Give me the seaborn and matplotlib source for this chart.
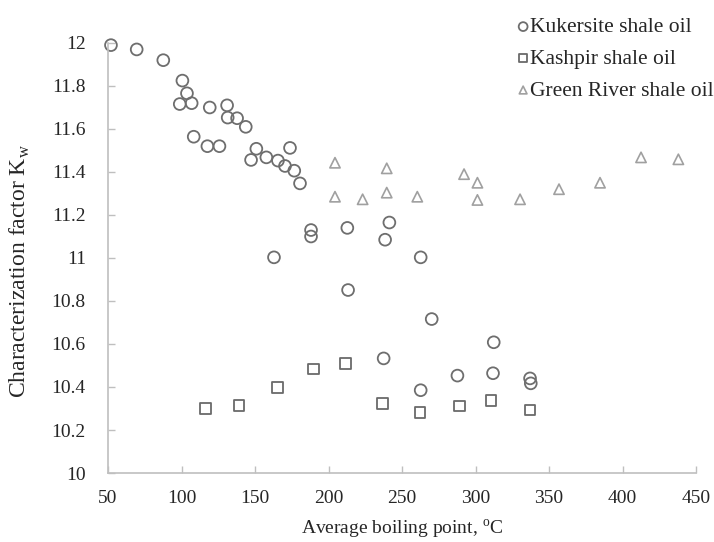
# characterization factor vs average boiling point for three shale oils

import pandas as pd
import seaborn as sns
import matplotlib.pyplot as plt

kuk_x = [52, 69.5, 87.6, 100.6, 103.7, 98.8, 106.9, 108.3, 119.2, 117.6, 125.8, 131, 131.4,
         137.8, 143.7, 150.9, 147.3, 157.7, 165.6, 170.4, 173.8, 176.7, 180.6, 188.1, 188.1,
         212.8, 162.9, 241.4, 238.5, 262.7, 213.3, 270.2, 312.4, 237.5, 287.7, 311.9, 337.1,
         337.6, 262.7]
kuk_y = [11.99, 11.97, 11.92, 11.825, 11.766, 11.716, 11.72, 11.564, 11.70, 11.52, 11.52,
         11.71, 11.653, 11.65, 11.61, 11.508, 11.456, 11.468, 11.453, 11.428, 11.512, 11.406,
         11.347, 11.13, 11.10, 11.14, 11.003, 11.165, 11.085, 11.003, 10.851, 10.716, 10.608,
         10.533, 10.453, 10.464, 10.44, 10.417, 10.385]

kas_x = [116.2, 139.1, 165.4, 189.7, 211.3, 236.6, 262.2, 289, 310.5, 337.1]
kas_y = [10.30, 10.313, 10.397, 10.484, 10.51, 10.324, 10.282, 10.312, 10.336, 10.293]

gr_x = [204.4, 204.4, 223.2, 239.6, 239.6, 260.4, 292.2, 301.3, 301.3, 330.3, 356.8, 384.7,
        412.6, 438]
gr_y = [11.443, 11.285, 11.273, 11.417, 11.304, 11.285, 11.39, 11.35, 11.27, 11.273, 11.32,
        11.35, 11.468, 11.459]

kuk = pd.DataFrame({'x': kuk_x, 'y': kuk_y})
kas = pd.DataFrame({'x': kas_x, 'y': kas_y})
gr = pd.DataFrame({'x': gr_x, 'y': gr_y})

sns.set_style('white')
plt.rcParams['font.family'] = ['Liberation Serif', 'DejaVu Serif']

fig = plt.figure(figsize=(7.14, 5.42), dpi=100)
ax = fig.add_axes([0.1513, 0.1273, 0.8235, 0.7934])

sns.scatterplot(ax=ax, data=kuk, x='x', y='y', marker='o', s=72, facecolor='none',
                edgecolor='#6e6e6e', linewidth=1.3, clip_on=False, label='Kukersite shale oil')
sns.scatterplot(ax=ax, data=kas, x='x', y='y', marker='s', s=60, facecolor='none',
                edgecolor='#6a6a6a', linewidth=1.3, clip_on=False, label='Kashpir shale oil')
sns.scatterplot(ax=ax, data=gr, x='x', y='y', marker='^', s=55, facecolor='none',
                edgecolor='#a0a0a0', linewidth=1.2, clip_on=False, label='Green River shale oil')

ax.set_xlim(50, 450)
ax.set_ylim(10, 12)
ax.set_xticks(range(50, 451, 50))
ax.set_yticks([10, 10.2, 10.4, 10.6, 10.8, 11, 11.2, 11.4, 11.6, 11.8, 12])
ax.set_yticklabels(['10', '10.2', '10.4', '10.6', '10.8', '11', '11.2', '11.4', '11.6',
                    '11.8', '12'])
ax.tick_params(direction='in', length=5, width=1, color='#bfbfbf', labelsize=14,
               bottom=True, left=True)
ax.tick_params(axis='x', pad=12)
ax.tick_params(axis='y', pad=16)
for side in ['top', 'right']:
    ax.spines[side].set_visible(False)
for side in ['left', 'bottom']:
    ax.spines[side].set_color('#bfbfbf')
    ax.spines[side].set_linewidth(1.2)

ax.set_xlabel('Average boiling point, $^\\mathregular{o}$C', fontsize=14, labelpad=8)
ax.set_ylabel('Characterization factor K$_\\mathregular{w}$', fontsize=17)
ax.yaxis.set_label_coords(-0.13, 0.47)

ax.legend(loc='upper left', bbox_to_anchor=(0.695, 1.06), frameon=False, fontsize=15.5,
          handletextpad=0.0, handlelength=0.6, labelspacing=0.54, markerscale=0.75,
          borderaxespad=0, borderpad=0)

fig.savefig('out.png', dpi=100)
